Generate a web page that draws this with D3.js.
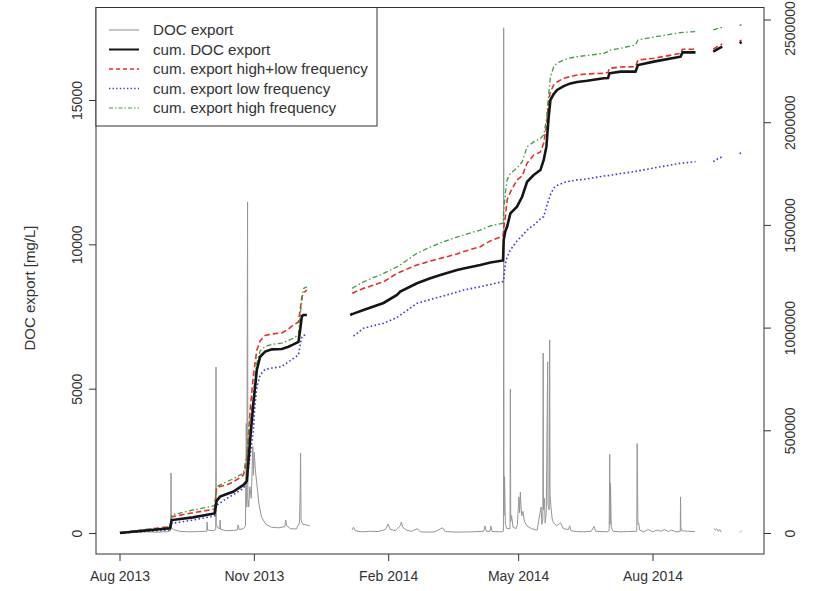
<!DOCTYPE html>
<html>
<head>
<meta charset="utf-8">
<script src="https://cdn.jsdelivr.net/npm/d3@7"></script>
<style>
  html, body { margin: 0; padding: 0; background: #fff; }
  svg { display: block; font-family: "Liberation Sans", Arial, sans-serif; }
</style>
</head>
<body>
<svg id="chart" width="819" height="591"></svg>
<script>
// ---- data -------------------------------------------------------------
// DOC export (left axis, mg/L); null marks a gap in the record
const docTime = [
  "2013-08-01 00:00","2013-08-06 00:00","2013-08-12 00:00","2013-08-20 00:00","2013-08-28 00:00",
  "2013-09-03 00:00","2013-09-05 03:00","2013-09-05 07:00","2013-09-05 11:00","2013-09-07 00:00",
  "2013-09-11 00:00","2013-09-17 00:00","2013-09-24 00:00","2013-09-29 18:00","2013-09-30 00:00",
  "2013-09-30 08:00","2013-10-04 00:00","2013-10-05 22:00","2013-10-06 02:00","2013-10-06 06:00",
  "2013-10-07 06:00","2013-10-08 15:00","2013-10-08 21:00","2013-10-09 04:00","2013-10-13 00:00",
  "2013-10-18 00:00","2013-10-20 18:00","2013-10-21 05:00","2013-10-22 00:00","2013-10-25 00:00",
  "2013-10-26 06:00","2013-10-26 20:00","2013-10-27 04:00","2013-10-27 17:00","2013-10-27 22:00",
  "2013-10-28 12:00","2013-10-29 06:00","2013-10-30 06:00","2013-10-31 06:00","2013-10-31 18:00",
  "2013-11-01 06:00","2013-11-02 00:00","2013-11-03 06:00","2013-11-04 12:00","2013-11-06 06:00",
  "2013-11-09 06:00","2013-11-13 00:00","2013-11-18 00:00","2013-11-22 06:00","2013-11-22 19:00",
  "2013-11-23 12:00","2013-11-26 00:00","2013-11-30 00:00","2013-12-02 06:00","2013-12-02 18:00",
  "2013-12-03 00:00","2013-12-03 08:00","2013-12-04 12:00","2013-12-07 00:00","2013-12-09 06:00",
  "2013-12-20 00:00",
  "2014-01-07 06:00","2014-01-08 06:00","2014-01-09 12:00","2014-01-14 00:00","2014-01-20 00:00",
  "2014-01-25 00:00","2014-01-30 00:00","2014-02-01 00:00","2014-02-02 06:00","2014-02-06 00:00",
  "2014-02-09 06:00","2014-02-10 00:00","2014-02-11 00:00","2014-02-13 12:00","2014-02-17 00:00",
  "2014-02-21 00:00","2014-02-23 00:00","2014-03-01 00:00","2014-03-05 00:00","2014-03-09 00:00",
  "2014-03-10 06:00","2014-03-12 00:00","2014-03-20 00:00","2014-03-30 00:00","2014-04-07 12:00",
  "2014-04-08 06:00","2014-04-09 06:00","2014-04-11 18:00","2014-04-12 06:00","2014-04-13 06:00",
  "2014-04-20 00:00","2014-04-20 22:00","2014-04-21 02:00","2014-04-21 07:00","2014-04-21 17:00",
  "2014-04-22 06:00","2014-04-23 06:00","2014-04-25 10:00","2014-04-25 16:00","2014-04-25 22:00",
  "2014-04-26 12:00","2014-04-27 12:00","2014-04-29 12:00","2014-04-30 12:00","2014-05-01 12:00",
  "2014-05-02 00:00","2014-05-02 12:00","2014-05-03 00:00","2014-05-03 12:00","2014-05-04 06:00",
  "2014-05-05 06:00","2014-05-07 00:00","2014-05-10 00:00","2014-05-14 00:00","2014-05-16 17:00",
  "2014-05-17 06:00","2014-05-17 22:00","2014-05-18 03:00","2014-05-18 08:00","2014-05-19 00:00",
  "2014-05-19 12:00","2014-05-20 06:00","2014-05-21 05:00","2014-05-21 10:00","2014-05-22 06:00",
  "2014-05-22 14:00","2014-05-22 20:00","2014-05-23 12:00","2014-05-24 06:00","2014-05-25 06:00",
  "2014-05-27 06:00","2014-05-30 00:00","2014-06-01 00:00","2014-06-04 12:00","2014-06-05 06:00",
  "2014-06-06 06:00","2014-06-10 00:00","2014-06-15 00:00","2014-06-20 00:00","2014-06-22 00:00",
  "2014-06-23 00:00","2014-07-01 00:00","2014-07-02 08:00","2014-07-02 17:00","2014-07-03 00:00",
  "2014-07-03 06:00","2014-07-03 18:00","2014-07-05 00:00","2014-07-10 00:00","2014-07-15 00:00",
  "2014-07-21 06:00","2014-07-21 12:00","2014-07-22 00:00","2014-07-22 12:00","2014-07-23 06:00",
  "2014-07-26 00:00","2014-07-29 00:00","2014-08-01 00:00","2014-08-04 00:00","2014-08-07 00:00",
  "2014-08-09 00:00","2014-08-12 00:00","2014-08-14 00:00","2014-08-17 00:00","2014-08-20 00:00",
  "2014-08-20 05:00","2014-08-20 10:00","2014-08-21 00:00","2014-08-25 00:00","2014-08-30 00:00",
  "2014-09-05 00:00",
  "2014-09-12 00:00","2014-09-13 00:00","2014-09-14 00:00","2014-09-15 00:00","2014-09-16 00:00",
  "2014-09-17 00:00",
  "2014-09-24 00:00",
  "2014-09-30 00:00","2014-10-01 00:00"
];
const docValue = [
  30,50,30,40,30,
  50,80,2080,200,120,
  60,40,50,60,380,
  100,80,120,5750,300,
  180,150,450,130,80,
  90,110,280,120,150,
  250,3800,900,11470,1200,
  900,1600,1200,3000,2000,
  2800,2200,1600,1000,550,
  300,200,180,220,450,
  250,150,140,350,1500,
  2770,450,300,280,250,
  null,
  100,200,80,40,60,
  50,120,310,130,80,
  250,380,200,100,60,
  150,40,30,40,150,
  180,50,30,40,60,
  240,60,60,240,50,
  40,60,17500,600,1950,
  300,150,150,4990,400,
  600,200,150,300,1250,
  700,1420,900,600,750,
  400,250,150,100,900,
  300,500,6230,800,1200,
  350,700,5930,1000,800,
  6690,1300,900,500,350,
  250,350,150,120,250,
  80,50,40,60,230,
  60,40,80,2730,300,
  1720,200,60,40,50,
  60,3100,300,350,100,
  40,120,40,100,60,
  120,50,100,40,50,
  1250,200,80,60,50,
  null,
  160,100,150,60,120,
  30,
  null,
  20,80
];

// cumulative exports (right axis); null marks a gap
const cumTime = [
  "2013-08-01 08:00","2013-08-17 03:00","2013-09-04 15:00","2013-09-05 19:00","2013-09-20 09:00",
  "2013-10-02 00:00","2013-10-05 03:00","2013-10-06 12:00","2013-10-08 21:00","2013-10-13 12:00",
  "2013-10-17 19:00","2013-10-24 21:00","2013-10-27 05:00","2013-10-29 11:00","2013-10-31 17:00",
  "2013-11-01 21:00","2013-11-03 01:00","2013-11-05 07:00","2013-11-08 18:00","2013-11-13 08:00",
  "2013-11-20 04:00","2013-11-24 17:00","2013-11-28 03:00","2013-12-01 13:00","2013-12-02 17:00",
  "2013-12-03 21:00","2013-12-05 00:00","2013-12-07 08:00",
  "2013-12-20 00:00",
  "2014-01-05 23:00","2014-01-07 08:00","2014-01-08 06:00","2014-01-15 03:00","2014-01-28 20:00",
  "2014-02-07 00:00","2014-02-09 06:00","2014-02-20 17:00","2014-03-01 20:00","2014-03-08 17:00",
  "2014-03-20 03:00","2014-03-24 16:00","2014-04-05 02:00","2014-04-11 23:00","2014-04-20 16:00",
  "2014-04-21 02:00","2014-04-22 06:00","2014-04-23 10:00","2014-04-25 16:00","2014-04-30 05:00",
  "2014-05-03 17:00","2014-05-07 03:00","2014-05-11 15:00","2014-05-16 06:00","2014-05-18 12:00",
  "2014-05-20 08:00","2014-05-21 22:00","2014-05-23 02:00","2014-05-25 08:00","2014-05-27 16:00",
  "2014-06-01 05:00","2014-06-05 19:00","2014-06-10 09:00","2014-06-17 06:00","2014-06-28 15:00",
  "2014-07-01 12:00","2014-07-02 13:00","2014-07-10 02:00","2014-07-20 08:00","2014-07-22 01:00",
  "2014-08-01 21:00","2014-08-20 05:00","2014-08-21 13:00","2014-08-30 11:00",
  "2014-09-05 00:00",
  "2014-09-11 14:00","2014-09-14 13:00","2014-09-17 18:00",
  "2014-09-24 00:00",
  "2014-09-29 15:00","2014-10-01 01:00"
];
const cumDOC = [
  0,11000,23000,63000,76000,
  91000,95000,156000,177000,190000,
  201000,234000,253000,453000,633000,
  712000,794000,858000,883000,894000,
  896000,907000,918000,930000,988000,
  1056000,1061000,1061000,
  null,
  1061000,1066000,1068000,1086000,1120000,
  1159000,1175000,1216000,1240000,1256000,
  1280000,1288000,1305000,1317000,1327000,
  1426000,1470000,1491000,1556000,1589000,
  1637000,1710000,1743000,1767000,1816000,
  1881000,2027000,2108000,2137000,2157000,
  2176000,2189000,2196000,2202000,2214000,
  2215000,2238000,2246000,2246000,2278000,
  2295000,2319000,2340000,2340000,
  null,
  2343000,2356000,2368000,
  null,
  2385000,2390000
];
const cumHighLow = [
  0,15000,31000,79000,99000,
  112000,117000,219000,226000,234000,
  248000,282000,355000,599000,769000,
  828000,891000,935000,962000,969000,
  974000,993000,1013000,1027000,1086000,
  1149000,1168000,1183000,
  null,
  null,1167000,1170000,1191000,1223000,
  1264000,1271000,1305000,1324000,1337000,
  1358000,1370000,1394000,1422000,1446000,
  1485000,1540000,1621000,1660000,1719000,
  1738000,1801000,1840000,1855000,1899000,
  1978000,2108000,2147000,2181000,2196000,
  2214000,2222000,2230000,2235000,2238000,
  2242000,2262000,2269000,2270000,2303000,
  2311000,2335000,2355000,2355000,
  null,
  2355000,2369000,2381000,
  null,
  2395000,2399000
];
const cumLow = [
  0,7000,15000,47000,63000,
  79000,83000,136000,146000,169000,
  185000,218000,248000,380000,501000,
  631000,712000,769000,797000,803000,
  810000,834000,850000,867000,915000,
  956000,962000,964000,
  null,
  null,null,959000,997000,1021000,
  1049000,1061000,1118000,1137000,1150000,
  1173000,1183000,1199000,1210000,1224000,
  1232000,1313000,1344000,1378000,1422000,
  1448000,1475000,1499000,1529000,1540000,
  1587000,1621000,1646000,1680000,1692000,
  1706000,1714000,1719000,1724000,1738000,
  1740000,1741000,1750000,1760000,1763000,
  1777000,1800000,1801000,1808000,
  null,
  1808000,1821000,1832000,
  null,
  1848000,1850000
];
const cumHigh = [
  2000,15000,28000,88000,112000,
  128000,134000,225000,234000,250000,
  263000,291000,380000,550000,664000,
  769000,826000,886000,910000,918000,
  924000,937000,949000,964000,1061000,
  1134000,1191000,1198000,
  null,
  null,1191000,1195000,1223000,1264000,
  1296000,1305000,1362000,1392000,1412000,
  1441000,1451000,1475000,1495000,1508000,
  1573000,1654000,1719000,1751000,1777000,
  1806000,1881000,1904000,1921000,1938000,
  2011000,2132000,2221000,2270000,2288000,
  2303000,2313000,2319000,2325000,2335000,
  2344000,2351000,2360000,2376000,2400000,
  2415000,2436000,2437000,2441000,
  null,
  2449000,2456000,2462000,
  null,
  2472000,2474000
];

// axis ticks
const leftTicks = [0, 5000, 10000, 15000];
const rightTicks = [0, 500000, 1000000, 1500000, 2000000, 2500000];
const dateTicks = ["2013-08-01", "2013-11-01", "2014-02-01", "2014-05-01", "2014-08-01"];
const dateTickLabels = ["Aug 2013", "Nov 2013", "Feb 2014", "May 2014", "Aug 2014"];

const legendLabels = [
  "DOC export",
  "cum. DOC export",
  "cum. export high+low frequency",
  "cum. export low frequency",
  "cum. export high frequency"
];

// ---- layout -----------------------------------------------------------
const box = { left: 96, right: 764, top: 7.5, bottom: 554 };
const ink = "#333";

const parseT = d3.timeParse("%Y-%m-%d %H:%M");
const parseD = d3.timeParse("%Y-%m-%d");

const x = d3.scaleTime()
  .domain([parseD("2013-08-01"), parseD("2014-08-01")])
  .range([119.5, 652.5]);
const yL = d3.scaleLinear().domain([0, 15000]).range([533, 100]);
const yR = d3.scaleLinear().domain([0, 2500000]).range([533, 19.5]);

const svg = d3.select("#chart");

svg.append("defs").append("clipPath").attr("id", "plotclip")
  .append("rect")
  .attr("x", box.left).attr("y", box.top)
  .attr("width", box.right - box.left).attr("height", box.bottom - box.top);

const plot = svg.append("g").attr("clip-path", "url(#plotclip)");

// DOC export series
const docData = docTime.map((t, i) => ({ t: parseT(t), v: docValue[i] }));
plot.append("path")
  .datum(docData)
  .attr("fill", "none")
  .attr("stroke", "#959595")
  .attr("stroke-width", 1)
  .attr("stroke-linejoin", "round")
  .attr("d", d3.line().defined(d => d.v != null).x(d => x(d.t)).y(d => yL(d.v)));

// cumulative series
const cumSeries = [
  { values: cumLow,     color: "#3d3dd0", width: 1.6, dash: "1.6,2.4" },
  { values: cumHighLow, color: "#e82f2a", width: 1.6, dash: "5.5,3" },
  { values: cumHigh,    color: "#3a9e3a", width: 1.3, dash: "5,2.5,1.5,2.5" },
  { values: cumDOC,     color: "#151515", width: 2.6, dash: null }
];
const cumLine = d3.line().defined(d => d.v != null).x(d => x(d.t)).y(d => yR(d.v));
cumSeries.forEach(s => {
  const data = cumTime.map((t, i) => ({ t: parseT(t), v: s.values[i] }));
  plot.append("path")
    .datum(data)
    .attr("fill", "none")
    .attr("stroke", s.color)
    .attr("stroke-width", s.width)
    .attr("stroke-dasharray", s.dash)
    .attr("d", cumLine);
});

// ---- axes ---------------------------------------------------------------
const fontSize = 14;

// left axis
const gL = svg.append("g").attr("transform", `translate(${box.left},0)`)
  .call(d3.axisLeft(yL).tickValues(leftTicks).tickSize(7).tickSizeOuter(0).tickFormat(d3.format("d")));
gL.select(".domain").remove();
gL.selectAll(".tick line").attr("stroke", ink);
gL.selectAll(".tick text")
  .attr("x", null).attr("dy", null)
  .attr("transform", "translate(-14,0) rotate(-90)")
  .attr("text-anchor", "middle")
  .attr("fill", ink).attr("font-size", fontSize)
  .attr("font-family", "Liberation Sans, Arial, sans-serif");

// right axis; the top label is kept inside the page
const gR = svg.append("g").attr("transform", `translate(${box.right},0)`)
  .call(d3.axisRight(yR).tickValues(rightTicks).tickSize(7).tickSizeOuter(0).tickFormat(d3.format("d")));
gR.select(".domain").remove();
gR.selectAll(".tick line").attr("stroke", ink);
gR.selectAll(".tick text")
  .attr("x", null).attr("dy", null)
  .attr("transform", d => {
    const half = 27;
    const shift = Math.max(0, half + 1 - yR(d));
    return `translate(31,${shift}) rotate(-90)`;
  })
  .attr("text-anchor", "middle")
  .attr("fill", ink).attr("font-size", fontSize)
  .attr("font-family", "Liberation Sans, Arial, sans-serif");

// bottom axis
const gB = svg.append("g").attr("transform", `translate(0,${box.bottom})`)
  .call(d3.axisBottom(x).tickValues(dateTicks.map(parseD)).tickSize(7).tickSizeOuter(0)
    .tickFormat((d, i) => dateTickLabels[i]));
gB.select(".domain").remove();
gB.selectAll(".tick line").attr("stroke", ink);
gB.selectAll(".tick text")
  .attr("y", 27).attr("dy", null)
  .attr("fill", ink).attr("font-size", fontSize)
  .attr("font-family", "Liberation Sans, Arial, sans-serif");

// frame
svg.append("rect")
  .attr("x", box.left).attr("y", box.top)
  .attr("width", box.right - box.left).attr("height", box.bottom - box.top)
  .attr("fill", "none").attr("stroke", ink).attr("stroke-width", 1);

// y-axis title
svg.append("text")
  .attr("transform", "translate(35,288) rotate(-90)")
  .attr("text-anchor", "middle")
  .attr("fill", ink).attr("font-size", 15)
  .text("DOC export [mg/L]");

// ---- legend -------------------------------------------------------------
const legendStyles = [
  { color: "#a0a0a0", width: 1.2, dash: null },
  { color: "#151515", width: 2, dash: null },
  { color: "#e82f2a", width: 1.4, dash: "4,3" },
  { color: "#3d3dd0", width: 1.4, dash: "1.4,2.2" },
  { color: "#3a9e3a", width: 1.2, dash: "4,2,1.5,2" }
];
const lg = svg.append("g");
lg.append("rect")
  .attr("x", box.left).attr("y", box.top)
  .attr("width", 281).attr("height", 118.5)
  .attr("fill", "#fff").attr("stroke", ink).attr("stroke-width", 1);
const rowY = d3.scaleLinear().domain([0, 4]).range([30, 108]);
legendLabels.forEach((lab, i) => {
  const st = legendStyles[i];
  const yy = rowY(i);
  lg.append("line")
    .attr("x1", 109).attr("x2", 139).attr("y1", yy).attr("y2", yy)
    .attr("stroke", st.color).attr("stroke-width", st.width)
    .attr("stroke-dasharray", st.dash);
  lg.append("text")
    .attr("x", 153).attr("y", yy).attr("dy", "0.35em")
    .attr("fill", ink).attr("font-size", 15.2)
    .text(lab);
});
</script>
</body>
</html>
